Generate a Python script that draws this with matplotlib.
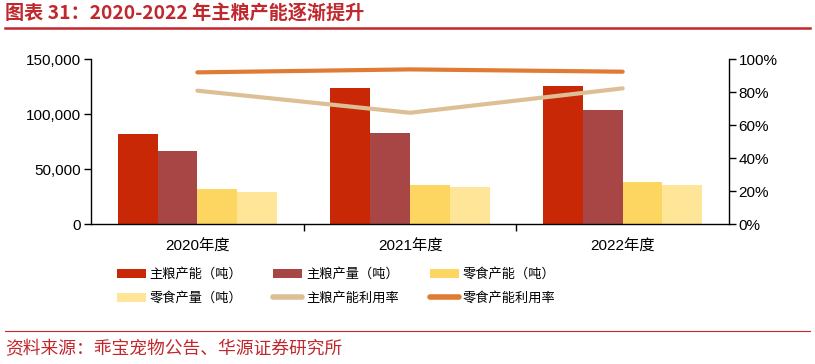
import matplotlib.pyplot as plt
import numpy as np
from matplotlib.ticker import FuncFormatter, PercentFormatter
from matplotlib.lines import Line2D

plt.rcParams['font.family'] = ['Liberation Sans', 'Noto Sans CJK SC', 'DejaVu Sans']

# 数据
years = ['2020年度', '2021年度', '2022年度']
zl_cap = [82400, 123600, 126000]      # 主粮产能（吨）
zl_out = [66600, 82700, 103600]       # 主粮产量（吨）
ls_cap = [31800, 35700, 38500]        # 零食产能（吨）
ls_out = [29400, 33900, 35400]        # 零食产量（吨）
zl_rate = [81.0, 67.6, 82.4]          # 主粮产能利用率 %
ls_rate = [92.1, 93.9, 92.5]          # 零食产能利用率 %

bar_names = ['主粮产能（吨）', '主粮产量（吨）', '零食产能（吨）', '零食产量（吨）']
bar_colors = ['#C82806', '#A84646', '#FCD660', '#FEE597']
line_names = ['主粮产能利用率', '零食产能利用率']
line_colors = ['#DDBF96', '#E07B35']

title_red = '#C0282D'

fig = plt.figure(figsize=(8.15, 3.64), dpi=100)
ax = fig.add_axes([0.1117, 0.3838, 0.7828, 0.4532])

x = np.arange(len(years))
w = 0.187
series = [zl_cap, zl_out, ls_cap, ls_out]
handles = []
for i, (vals, c, n) in enumerate(zip(series, bar_colors, bar_names)):
    h = ax.bar(x + (i - 1.5) * w, vals, w, color=c, label=n, zorder=2)
    handles.append(h)

ax.set_xlim(-0.5, 2.5)
ax.set_ylim(0, 150000)
ax.set_yticks([0, 50000, 100000, 150000])
ax.yaxis.set_major_formatter(FuncFormatter(lambda v, p: f'{int(v):,}'))
ax.set_xticks(x)
ax.set_xticklabels(years)
ax.set_xticks([0.5, 1.5], minor=True)
ax.tick_params(axis='x', which='major', length=0, pad=11, labelsize=11)
ax.tick_params(axis='x', which='minor', length=5, width=1, direction='out')
ax.tick_params(axis='y', length=5, width=1, labelsize=11, pad=2)
for s in ['top', 'right']:
    ax.spines[s].set_visible(False)
ax.spines['left'].set_linewidth(1)
ax.spines['bottom'].set_linewidth(1)

ax2 = ax.twinx()
ax2.set_ylim(0, 100)
ax2.set_yticks([0, 20, 40, 60, 80, 100])
ax2.yaxis.set_major_formatter(PercentFormatter(decimals=0))
ax2.tick_params(axis='y', length=5, width=1, labelsize=11, pad=2)
for s in ['top', 'left', 'bottom']:
    ax2.spines[s].set_visible(False)
ax2.spines['right'].set_linewidth(1)

for vals, c, n in zip([zl_rate, ls_rate], line_colors, line_names):
    ax2.plot(x, vals, color=c, lw=3, solid_capstyle='round', label=n, zorder=3)
    handles.append(Line2D([], [], color=c, lw=4, solid_capstyle='round'))

labels = bar_names + line_names
order = [0, 3, 1, 4, 2, 5]
fig.legend([handles[i] for i in order], [labels[i] for i in order],
           loc='upper left', bbox_to_anchor=(0.143, 0.263), ncol=3,
           frameon=False, fontsize=9.5, handlelength=2.2, handleheight=0.7,
           columnspacing=2.35, labelspacing=0.85, handletextpad=0.3,
           borderaxespad=0, borderpad=0)

# 标题与来源
fig.text(0.006, 0.96, '图表 31：2020-2022 年主粮产能逐渐提升', color=title_red,
         fontsize=13.8, fontweight='bold', family=['Noto Sans CJK SC', 'DejaVu Sans'],
         va='center', ha='left')
fig.add_artist(Line2D([0.006, 0.994], [0.923, 0.923], color=title_red, lw=1.8,
                      transform=fig.transFigure))
fig.add_artist(Line2D([0.006, 0.994], [0.09, 0.09], color=title_red, lw=0.8,
                      transform=fig.transFigure))
fig.text(0.006, 0.04, '资料来源：乖宝宠物公告、华源证券研究所', color=title_red,
         fontsize=12.8, family=['Noto Sans CJK SC', 'DejaVu Sans'],
         va='center', ha='left')

fig.savefig('out.png', dpi=100)
